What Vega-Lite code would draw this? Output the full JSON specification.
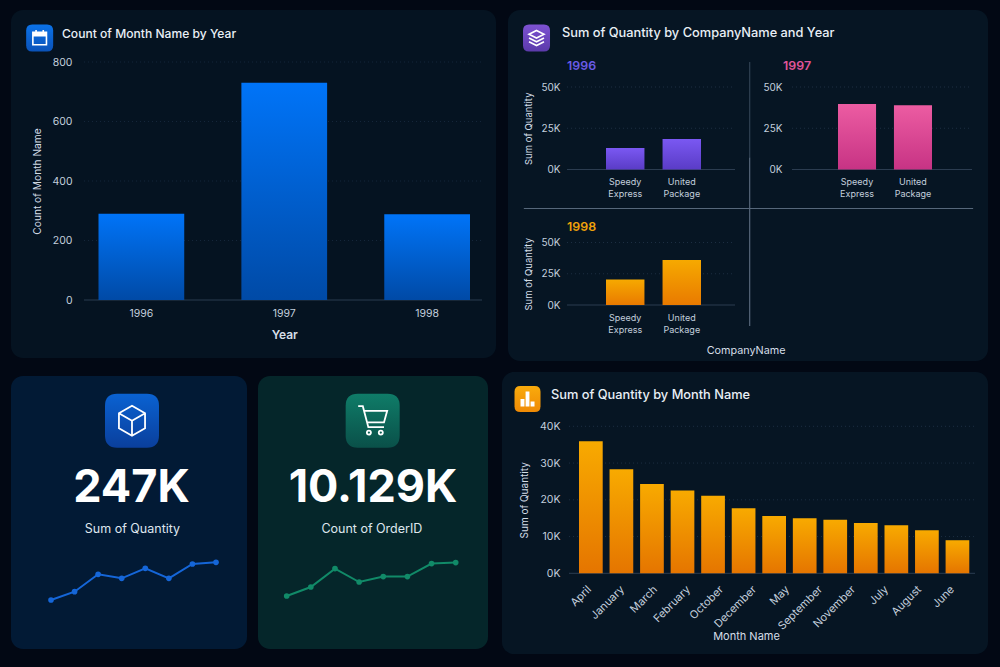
{
"$schema":"https://vega.github.io/schema/vega-lite/v6.json",
"background":"#020814",
"padding":{"left":11,"top":9,"right":13,"bottom":14},
"spacing":5,
"config":{
 "view":{"stroke":null},
 "axis":{"labelFont":"Inter","titleFont":"Inter","labelColor":"#c3cfdd","titleColor":"#d5dee8","ticks":false,"domain":false,"grid":false,"labelFontWeight":400,"titleFontWeight":400},
 "title":{"font":"Inter","fontSize":12.8,"fontWeight":500,"color":"#e9eff6","anchor":"start","frame":"group"},
 "text":{"font":"Inter"}
},
"hconcat":[
{"vconcat":[
 {"width":485,"height":348,"view":{"fill":"#051321","cornerRadius":12},
  "title":{"text":"Count of Month Name by Year","offset":-30,"dx":51,"fontSize":12.1},
  "resolve":{"scale":{"x":"independent","y":"independent"}},
  "layer":[
   {"data":{"values":[{"v":0},{"v":200},{"v":400},{"v":600},{"v":800}]},"mark":{"type":"rule","strokeWidth":1},
    "encoding":{"x":{"datum":0,"scale":{"domain":[0,1],"range":[73,471]},"axis":null},"x2":{"datum":1},
     "y":{"field":"v","type":"quantitative","scale":{"domain":[0,800],"range":[290,52]},"axis":null},
     "stroke":{"condition":{"test":"datum.v==0","value":"#2b3c50"},"value":"#15263a"},
     "strokeDash":{"condition":{"test":"datum.v==0","value":[1,0]},"value":[1,3]}}},
   {"data":{"values":[{"Year":"1996","Count of Month Name":290},{"Year":"1997","Count of Month Name":730},{"Year":"1998","Count of Month Name":288}]},
    "mark":{"type":"bar","color":{"gradient":"linear","x1":0,"y1":0,"x2":0,"y2":1,"stops":[{"offset":0,"color":"#0074f8"},{"offset":1,"color":"#004aa6"}]}},
    "encoding":{
     "x":{"field":"Year","type":"nominal","sort":null,"scale":{"type":"band","range":[87.5,459],"paddingInner":0.4,"paddingOuter":0},"axis":{"orient":"bottom","offset":-58,"labelAngle":0,"labelPadding":8,"labelFontSize":10.5,"title":"Year","titleFontSize":12,"titleFontWeight":600,"titlePadding":11}},
     "y":{"field":"Count of Month Name","type":"quantitative","scale":{"domain":[0,800],"range":[290,52]},"axis":{"orient":"left","offset":-66,"values":[0,200,400,600,800],"labelPadding":5,"labelFontSize":10.5,"title":"Count of Month Name","titleFontSize":10.2,"titlePadding":9}}}},
   {"data":{"values":[{"icon":"calendar"}]},"mark":{"type":"point","filled":true,"size":729,"opacity":1,"shape":"M-0.55,-1H0.55Q1,-1 1,-0.55V0.55Q1,1 0.55,1H-0.55Q-1,1 -1,0.55V-0.55Q-1,-1 -0.55,-1Z","fill":{"gradient":"linear","x1":0,"y1":0,"x2":0,"y2":1,"stops":[{"offset":0,"color":"#0b72e8"},{"offset":1,"color":"#0a52b8"}]}},
    "encoding":{"x":{"datum":0.0591,"scale":{"domain":[0,1],"range":[0,485]},"axis":null},"y":{"datum":0.0805,"scale":{"domain":[0,1],"range":[0,348]},"axis":null}}},
   {"data":{"values":[{"icon":"calendar"}]},"mark":{"type":"point","filled":false,"size":256,"opacity":1,"color":"#ffffff","strokeWidth":1.6,"shape":"M-0.85,-0.7H0.85V0.85H-0.85Z M-0.85,-0.3H0.85 M-0.45,-1V-0.7 M0.45,-1V-0.7 M-0.85,-0.5H0.85"},
    "encoding":{"x":{"datum":0.0591,"scale":{"domain":[0,1],"range":[0,485]},"axis":null},"y":{"datum":0.0805,"scale":{"domain":[0,1],"range":[0,348]},"axis":null}}}
  ]},
 {"hconcat":[
  {"width":236,"height":273,"view":{"fill":"#021a35","cornerRadius":12},
   "resolve":{"scale":{"x":"independent","y":"independent"}},
   "layer":[
    {"data":{"values":[{"icon":"box"}]},"mark":{"type":"point","filled":true,"size":2916,"opacity":1,"shape":"M-0.55,-1H0.55Q1,-1 1,-0.55V0.55Q1,1 0.55,1H-0.55Q-1,1 -1,0.55V-0.55Q-1,-1 -0.55,-1Z","fill":{"gradient":"linear","x1":0,"y1":0,"x2":0,"y2":1,"stops":[{"offset":0,"color":"#0a62d2"},{"offset":1,"color":"#0a3f9c"}]}},
     "encoding":{"x":{"datum":0.5127,"scale":{"domain":[0,1],"range":[0,236]},"axis":null},"y":{"datum":0.1637,"scale":{"domain":[0,1],"range":[0,273]},"axis":null}}},
    {"data":{"values":[{"icon":"box"}]},"mark":{"type":"point","filled":false,"size":900,"opacity":1,"color":"#ffffff","strokeWidth":1.8,"shape":"M0,-1L0.87,-0.5V0.5L0,1L-0.87,0.5V-0.5Z M-0.87,-0.5L0,0L0.87,-0.5 M0,0V1"},
     "encoding":{"x":{"datum":0.5127,"scale":{"domain":[0,1],"range":[0,236]},"axis":null},"y":{"datum":0.1637,"scale":{"domain":[0,1],"range":[0,273]},"axis":null}}},
    {"data":{"values":[{"value":"247K"}]},"mark":{"type":"text","fontSize":45,"fontWeight":700,"color":"#ffffff","baseline":"middle","align":"center"},
     "encoding":{"text":{"field":"value"},"x":{"datum":0.5106,"scale":{"domain":[0,1],"range":[0,236]},"axis":null},"y":{"datum":0.41,"scale":{"domain":[0,1],"range":[0,273]},"axis":null}}},
    {"data":{"values":[{"label":"Sum of Quantity"}]},"mark":{"type":"text","fontSize":12.5,"color":"#dfe6ee","baseline":"middle","align":"center"},
     "encoding":{"text":{"field":"label"},"x":{"datum":0.5147,"scale":{"domain":[0,1],"range":[0,236]},"axis":null},"y":{"datum":0.561,"scale":{"domain":[0,1],"range":[0,273]},"axis":null}}},
    {"data":{"values":[{"p":1,"v":0},{"p":2,"v":8.3},{"p":3,"v":25.7},{"p":4,"v":21.7},{"p":5,"v":31.7},{"p":6,"v":21.7},{"p":7,"v":36},{"p":8,"v":37.7}]},
     "mark":{"type":"line","color":"#1566d8","strokeWidth":2,"point":{"filled":true,"size":32,"color":"#1566d8","opacity":1}},
     "encoding":{"x":{"field":"p","type":"ordinal","scale":{"type":"point","range":[40,205],"padding":0},"axis":null},"y":{"field":"v","type":"quantitative","scale":{"domain":[0,40],"range":[224,184]},"axis":null}}}
   ]},
  {"width":230,"height":273,"view":{"fill":"#05262a","cornerRadius":12},
   "resolve":{"scale":{"x":"independent","y":"independent"}},
   "layer":[
    {"data":{"values":[{"icon":"cart"}]},"mark":{"type":"point","filled":true,"size":2916,"opacity":1,"shape":"M-0.55,-1H0.55Q1,-1 1,-0.55V0.55Q1,1 0.55,1H-0.55Q-1,1 -1,0.55V-0.55Q-1,-1 -0.55,-1Z","fill":{"gradient":"linear","x1":0,"y1":0,"x2":0,"y2":1,"stops":[{"offset":0,"color":"#0f7c68"},{"offset":1,"color":"#0a5049"}]}},
     "encoding":{"x":{"datum":0.4986,"scale":{"domain":[0,1],"range":[0,230]},"axis":null},"y":{"datum":0.1637,"scale":{"domain":[0,1],"range":[0,273]},"axis":null}}},
    {"data":{"values":[{"icon":"cart"}]},"mark":{"type":"point","filled":false,"size":841,"opacity":1,"color":"#ffffff","strokeWidth":1.8,"shape":"M-1,-1H-0.68L-0.3,0.45H0.78 M-0.6,-0.68H1L0.78,0.12H-0.38 M-0.4,0.82a0.14,0.14 0 1,0 0.28,0a0.14,0.14 0 1,0 -0.28,0 M0.42,0.82a0.14,0.14 0 1,0 0.28,0a0.14,0.14 0 1,0 -0.28,0"},
     "encoding":{"x":{"datum":0.4986,"scale":{"domain":[0,1],"range":[0,230]},"axis":null},"y":{"datum":0.1637,"scale":{"domain":[0,1],"range":[0,273]},"axis":null}}},
    {"data":{"values":[{"value":"10.129K"}]},"mark":{"type":"text","fontSize":45,"fontWeight":700,"color":"#ffffff","baseline":"middle","align":"center"},
     "encoding":{"text":{"field":"value"},"x":{"datum":0.5,"scale":{"domain":[0,1],"range":[0,230]},"axis":null},"y":{"datum":0.41,"scale":{"domain":[0,1],"range":[0,273]},"axis":null}}},
    {"data":{"values":[{"label":"Count of OrderID"}]},"mark":{"type":"text","fontSize":12.5,"color":"#dfe6ee","baseline":"middle","align":"center"},
     "encoding":{"text":{"field":"label"},"x":{"datum":0.495,"scale":{"domain":[0,1],"range":[0,230]},"axis":null},"y":{"datum":0.561,"scale":{"domain":[0,1],"range":[0,273]},"axis":null}}},
    {"data":{"values":[{"p":1,"v":0},{"p":2,"v":9},{"p":3,"v":27.4},{"p":4,"v":14},{"p":5,"v":19.4},{"p":6,"v":19.4},{"p":7,"v":32.4},{"p":8,"v":33.4}]},
     "mark":{"type":"line","color":"#118a68","strokeWidth":2,"point":{"filled":true,"size":32,"color":"#118a68","opacity":1}},
     "encoding":{"x":{"field":"p","type":"ordinal","scale":{"type":"point","range":[28.7,197.7],"padding":0},"axis":null},"y":{"field":"v","type":"quantitative","scale":{"domain":[0,40],"range":[220,180]},"axis":null}}}
   ]}
 ],"spacing":11}
],"spacing":18},
{"vconcat":[
 {"hconcat":[
  {"width":1,"height":1,"data":{"values":[{"s":1}]},"mark":{"type":"rule","opacity":0},"encoding":{}},
  {"width":480,"height":351,"view":{"fill":"#061523","cornerRadius":12},
   "title":{"text":"Sum of Quantity by CompanyName and Year","offset":-30,"dx":54},
   "resolve":{"scale":{"x":"independent","y":"independent"}},
   "layer":[
    {"data":{"values":[{"v":0},{"v":25000},{"v":50000}]},"mark":{"type":"rule","strokeWidth":1},
     "encoding":{"x":{"datum":0,"scale":{"domain":[0,1],"range":[59,227]},"axis":null},"x2":{"datum":1},"y":{"field":"v","type":"quantitative","scale":{"domain":[0,50000],"range":[159.5,77]},"axis":null},"stroke":{"condition":{"test":"datum.v==0","value":"#2b3c50"},"value":"#1c2e42"},"strokeDash":{"condition":{"test":"datum.v==0","value":[1,0]},"value":[1,3]}}},
    {"data":{"values":[{"v":0},{"v":25000},{"v":50000}]},"mark":{"type":"rule","strokeWidth":1},
     "encoding":{"x":{"datum":0,"scale":{"domain":[0,1],"range":[284,464]},"axis":null},"x2":{"datum":1},"y":{"field":"v","type":"quantitative","scale":{"domain":[0,50000],"range":[159.5,77]},"axis":null},"stroke":{"condition":{"test":"datum.v==0","value":"#2b3c50"},"value":"#1c2e42"},"strokeDash":{"condition":{"test":"datum.v==0","value":[1,0]},"value":[1,3]}}},
    {"data":{"values":[{"v":0},{"v":25000},{"v":50000}]},"mark":{"type":"rule","strokeWidth":1},
     "encoding":{"x":{"datum":0,"scale":{"domain":[0,1],"range":[59,227]},"axis":null},"x2":{"datum":1},"y":{"field":"v","type":"quantitative","scale":{"domain":[0,50000],"range":[295,232.5]},"axis":null},"stroke":{"condition":{"test":"datum.v==0","value":"#2b3c50"},"value":"#1c2e42"},"strokeDash":{"condition":{"test":"datum.v==0","value":[1,0]},"value":[1,3]}}},
    {"data":{"values":[{"CompanyName":"Speedy Express","Sum of Quantity":13000},{"CompanyName":"United Package","Sum of Quantity":18500}]},
     "mark":{"type":"bar","color":{"gradient":"linear","x1":0,"y1":0,"x2":0,"y2":1,"stops":[{"offset":0,"color":"#7a58f2"},{"offset":1,"color":"#5a3cc6"}]}},
     "encoding":{"x":{"field":"CompanyName","type":"nominal","scale":{"type":"band","range":[98,193],"paddingInner":0.32,"paddingOuter":0},"axis":{"orient":"bottom","offset":-191.5,"labelAngle":0,"labelPadding":8,"labelFontSize":9,"labelLineHeight":12,"labelExpr":"split(datum.label,' ')","title":null}},
      "y":{"field":"Sum of Quantity","type":"quantitative","scale":{"domain":[0,50000],"range":[159.5,77]},"axis":{"orient":"left","offset":-57,"values":[0,25000,50000],"labelExpr":"format(datum.value/1000,'d')+'K'","labelPadding":5,"labelFontSize":10,"title":"Sum of Quantity","titleFontSize":9.5,"titlePadding":7}}}},
    {"data":{"values":[{"CompanyName":"Speedy Express","Sum of Quantity":39700},{"CompanyName":"United Package","Sum of Quantity":39000}]},
     "mark":{"type":"bar","color":{"gradient":"linear","x1":0,"y1":0,"x2":0,"y2":1,"stops":[{"offset":0,"color":"#ec5ca2"},{"offset":1,"color":"#c73384"}]}},
     "encoding":{"x":{"field":"CompanyName","type":"nominal","scale":{"type":"band","range":[330,424],"paddingInner":0.32,"paddingOuter":0},"axis":{"orient":"bottom","offset":-191.5,"labelAngle":0,"labelPadding":8,"labelFontSize":9,"labelLineHeight":12,"labelExpr":"split(datum.label,' ')","title":null}},
      "y":{"field":"Sum of Quantity","type":"quantitative","scale":{"domain":[0,50000],"range":[159.5,77]},"axis":{"orient":"left","offset":-279,"values":[0,25000,50000],"labelExpr":"format(datum.value/1000,'d')+'K'","labelPadding":5,"labelFontSize":10,"title":null}}}},
    {"data":{"values":[{"CompanyName":"Speedy Express","Sum of Quantity":20400},{"CompanyName":"United Package","Sum of Quantity":36000}]},
     "mark":{"type":"bar","color":{"gradient":"linear","x1":0,"y1":0,"x2":0,"y2":1,"stops":[{"offset":0,"color":"#f6a900"},{"offset":1,"color":"#e97a00"}]}},
     "encoding":{"x":{"field":"CompanyName","type":"nominal","scale":{"type":"band","range":[98,193],"paddingInner":0.32,"paddingOuter":0},"axis":{"orient":"bottom","offset":-56,"labelAngle":0,"labelPadding":8,"labelFontSize":9,"labelLineHeight":12,"labelExpr":"split(datum.label,' ')","title":null}},
      "y":{"field":"Sum of Quantity","type":"quantitative","scale":{"domain":[0,50000],"range":[295,232.5]},"axis":{"orient":"left","offset":-57,"values":[0,25000,50000],"labelExpr":"format(datum.value/1000,'d')+'K'","labelPadding":5,"labelFontSize":10,"title":"Sum of Quantity","titleFontSize":9.5,"titlePadding":7}}}},
    {"data":{"values":[{"divider":"vertical upper"}]},"mark":{"type":"rule","stroke":"#2f4052","strokeWidth":1.2},
     "encoding":{"x":{"datum":0.5035,"scale":{"domain":[0,1],"range":[0,480]},"axis":null},"y":{"datum":0.148,"scale":{"domain":[0,1],"range":[0,351]},"axis":null},"y2":{"datum":0.42}}},
    {"data":{"values":[{"divider":"vertical lower"}]},"mark":{"type":"rule","stroke":"#56677a","strokeWidth":1.2},
     "encoding":{"x":{"datum":0.5035,"scale":{"domain":[0,1],"range":[0,480]},"axis":null},"y":{"datum":0.42,"scale":{"domain":[0,1],"range":[0,351]},"axis":null},"y2":{"datum":0.9}}},
    {"data":{"values":[{"divider":"horizontal"}]},"mark":{"type":"rule","stroke":"#56677a","strokeWidth":1.2},
     "encoding":{"y":{"datum":0.5655,"scale":{"domain":[0,1],"range":[0,351]},"axis":null},"x":{"datum":0.033,"scale":{"domain":[0,1],"range":[0,480]},"axis":null},"x2":{"datum":0.969}}},
    {"data":{"values":[{"label":"1996"}]},"mark":{"type":"text","fontSize":12.4,"fontWeight":600,"color":"#6a5be6","align":"left","baseline":"middle"},
     "encoding":{"text":{"field":"label"},"x":{"datum":0.123,"scale":{"domain":[0,1],"range":[0,480]},"axis":null},"y":{"datum":0.1595,"scale":{"domain":[0,1],"range":[0,351]},"axis":null}}},
    {"data":{"values":[{"label":"1997"}]},"mark":{"type":"text","fontSize":12.4,"fontWeight":600,"color":"#e0559a","align":"left","baseline":"middle"},
     "encoding":{"text":{"field":"label"},"x":{"datum":0.573,"scale":{"domain":[0,1],"range":[0,480]},"axis":null},"y":{"datum":0.1595,"scale":{"domain":[0,1],"range":[0,351]},"axis":null}}},
    {"data":{"values":[{"label":"1998"}]},"mark":{"type":"text","fontSize":12.4,"fontWeight":600,"color":"#f0a30a","align":"left","baseline":"middle"},
     "encoding":{"text":{"field":"label"},"x":{"datum":0.123,"scale":{"domain":[0,1],"range":[0,480]},"axis":null},"y":{"datum":0.618,"scale":{"domain":[0,1],"range":[0,351]},"axis":null}}},
    {"data":{"values":[{"label":"CompanyName"}]},"mark":{"type":"text","fontSize":10.8,"fontWeight":400,"color":"#d5dee8","align":"center","baseline":"middle"},
     "encoding":{"text":{"field":"label"},"x":{"datum":0.496,"scale":{"domain":[0,1],"range":[0,480]},"axis":null},"y":{"datum":0.972,"scale":{"domain":[0,1],"range":[0,351]},"axis":null}}},
    {"data":{"values":[{"icon":"layers"}]},"mark":{"type":"point","filled":true,"size":729,"opacity":1,"shape":"M-0.55,-1H0.55Q1,-1 1,-0.55V0.55Q1,1 0.55,1H-0.55Q-1,1 -1,0.55V-0.55Q-1,-1 -0.55,-1Z","fill":{"gradient":"linear","x1":0,"y1":0,"x2":0,"y2":1,"stops":[{"offset":0,"color":"#7d52d2"},{"offset":1,"color":"#5b3aaa"}]}},
     "encoding":{"x":{"datum":0.0594,"scale":{"domain":[0,1],"range":[0,480]},"axis":null},"y":{"datum":0.0798,"scale":{"domain":[0,1],"range":[0,351]},"axis":null}}},
    {"data":{"values":[{"icon":"layers"}]},"mark":{"type":"point","filled":false,"size":225,"opacity":1,"color":"#ffffff","strokeWidth":1.6,"shape":"M0,-1L1,-0.5L0,0L-1,-0.5Z M-1,0L0,0.5L1,0 M-1,0.5L0,1L1,0.5"},
     "encoding":{"x":{"datum":0.0594,"scale":{"domain":[0,1],"range":[0,480]},"axis":null},"y":{"datum":0.0798,"scale":{"domain":[0,1],"range":[0,351]},"axis":null}}}
   ]}
 ],"spacing":5},
 {"width":486,"height":282,"view":{"fill":"#061523","cornerRadius":12},
  "title":{"text":"Sum of Quantity by Month Name","offset":-30,"dx":49},
  "resolve":{"scale":{"x":"independent","y":"independent"}},
  "layer":[
   {"data":{"values":[{"v":0},{"v":10000},{"v":20000},{"v":30000},{"v":40000}]},"mark":{"type":"rule","strokeWidth":1},
    "encoding":{"x":{"datum":0,"scale":{"domain":[0,1],"range":[67,473]},"axis":null},"x2":{"datum":1},"y":{"field":"v","type":"quantitative","scale":{"domain":[0,40000],"range":[201.3,54.3]},"axis":null},"stroke":{"condition":{"test":"datum.v==0","value":"#2b3c50"},"value":"#1c2e42"},"strokeDash":{"condition":{"test":"datum.v==0","value":[1,0]},"value":[1,3]}}},
   {"data":{"values":[{"bar":1,"Sum of Quantity":35900},{"bar":2,"Sum of Quantity":28300},{"bar":3,"Sum of Quantity":24300},{"bar":4,"Sum of Quantity":22500},{"bar":5,"Sum of Quantity":21100},{"bar":6,"Sum of Quantity":17700},{"bar":7,"Sum of Quantity":15600},{"bar":8,"Sum of Quantity":15000},{"bar":9,"Sum of Quantity":14600},{"bar":10,"Sum of Quantity":13700},{"bar":11,"Sum of Quantity":13100},{"bar":12,"Sum of Quantity":11700},{"bar":13,"Sum of Quantity":9000}]},
    "mark":{"type":"bar","color":{"gradient":"linear","x1":0,"y1":0,"x2":0,"y2":1,"stops":[{"offset":0,"color":"#f8aa00"},{"offset":1,"color":"#e57500"}]}},
    "encoding":{"x":{"field":"bar","type":"ordinal","scale":{"type":"band","range":[77,467.3],"paddingInner":0.224,"paddingOuter":0},"axis":null},
     "y":{"field":"Sum of Quantity","type":"quantitative","scale":{"domain":[0,40000],"range":[201.3,54.3]},"axis":{"orient":"left","offset":-63,"values":[0,10000,20000,30000,40000],"labelExpr":"format(datum.value/1000,'d')+'K'","labelPadding":5,"labelFontSize":10.5,"title":"Sum of Quantity","titleFontSize":10,"titlePadding":10}}}},
   {"data":{"values":[{"Month Name":"April"},{"Month Name":"January"},{"Month Name":"March"},{"Month Name":"February"},{"Month Name":"October"},{"Month Name":"December"},{"Month Name":"May"},{"Month Name":"September"},{"Month Name":"November"},{"Month Name":"July"},{"Month Name":"August"},{"Month Name":"June"}]},
    "mark":{"type":"tick","opacity":0},
    "encoding":{"x":{"field":"Month Name","type":"nominal","sort":null,"scale":{"type":"point","range":[83,446],"padding":0},"axis":{"orient":"bottom","offset":-80.7,"labelAngle":-45,"labelPadding":10,"labelFontSize":11,"title":"Month Name","titleFontSize":11,"titleX":244,"titleY":63,"titleAlign":"center","titleBaseline":"middle"}}}},
   {"data":{"values":[{"icon":"bars"}]},"mark":{"type":"point","filled":true,"size":676,"opacity":1,"shape":"M-0.55,-1H0.55Q1,-1 1,-0.55V0.55Q1,1 0.55,1H-0.55Q-1,1 -1,0.55V-0.55Q-1,-1 -0.55,-1Z","fill":{"gradient":"linear","x1":0,"y1":0,"x2":0,"y2":1,"stops":[{"offset":0,"color":"#f9ab0c"},{"offset":1,"color":"#ef8a05"}]}},
    "encoding":{"x":{"datum":0.0525,"scale":{"domain":[0,1],"range":[0,486]},"axis":null},"y":{"datum":0.0957,"scale":{"domain":[0,1],"range":[0,282]},"axis":null}}},
   {"data":{"values":[{"icon":"bars"}]},"mark":{"type":"point","filled":true,"size":306,"opacity":1,"color":"#ffffff","shape":"M-0.8,0.85V0H-0.35V0.85Z M-0.22,0.85V-0.85H0.22V0.85Z M0.35,0.85V0.3H0.8V0.85Z"},
    "encoding":{"x":{"datum":0.0525,"scale":{"domain":[0,1],"range":[0,486]},"axis":null},"y":{"datum":0.0957,"scale":{"domain":[0,1],"range":[0,282]},"axis":null}}}
  ]}
],"spacing":11}
]}
